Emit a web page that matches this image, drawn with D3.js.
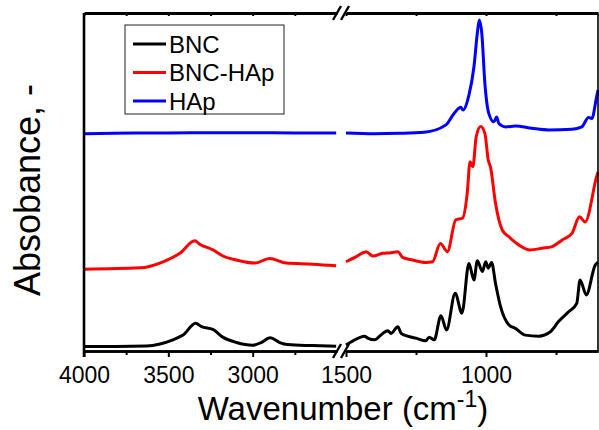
<!DOCTYPE html>
<html>
  <head>
    <meta charset="utf-8" />
    <title>FTIR spectra</title>
    <script src="https://d3js.org/d3.v7.min.js"></script>
    <style>
      body { margin: 0; background: #fff; }
      text { font-family: Arial, "Liberation Sans", sans-serif; fill: #000; }
    </style>
  </head>
  <body>
    <svg id="chart"></svg>
    <script>
      // wavenumber (cm-1), absorbance (arbitrary, offset)
      var bncLeft = [[4000,0.013],[3985,0.013],[3630,0.015],[3473,0.033],[3413,0.047],[3338,0.082],[3303,0.072],[3236,0.064],[3177,0.041],[3096,0.025],[3000,0.017],[2950,0.025],[2896,0.039],[2840,0.025],[2793,0.019],[2645,0.016],[2505,0.014]];
      var bncRight = [[1500,0.018],[1475,0.030],[1434,0.044],[1422,0.038],[1398,0.033],[1369,0.052],[1351,0.060],[1339,0.052],[1315,0.072],[1303,0.052],[1280,0.044],[1250,0.038],[1215,0.030],[1203,0.041],[1185,0.033],[1161,0.104],[1141,0.062],[1110,0.171],[1086,0.112],[1061,0.259],[1043,0.210],[1031,0.267],[1013,0.235],[1001,0.264],[992,0.245],[980,0.262],[966,0.200],[948,0.131],[918,0.077],[895,0.067],[859,0.047],[812,0.044],[770,0.057],[741,0.087],[705,0.116],[676,0.141],[664,0.210],[642,0.166],[610,0.254],[600,0.263]];

      var hybLeft = [[4000,0.242],[3669,0.246],[3531,0.264],[3432,0.289],[3343,0.326],[3314,0.316],[3235,0.299],[3176,0.281],[3096,0.269],[2988,0.260],[2899,0.274],[2800,0.260],[2643,0.257],[2505,0.252]];
      var hybRight = [[1500,0.264],[1463,0.279],[1428,0.294],[1404,0.281],[1369,0.289],[1339,0.291],[1315,0.294],[1298,0.277],[1262,0.269],[1215,0.262],[1191,0.264],[1163,0.318],[1138,0.294],[1108,0.388],[1084,0.393],[1067,0.467],[1057,0.560],[1047,0.545],[1035,0.634],[1019,0.664],[1004,0.644],[992,0.565],[984,0.545],[966,0.437],[942,0.358],[918,0.338],[883,0.314],[842,0.299],[800,0.304],[764,0.309],[729,0.328],[693,0.348],[666,0.397],[646,0.382],[605,0.516],[600,0.530]];

      var hapLeft = [[4000,0.643],[3700,0.645],[3500,0.645],[3200,0.646],[3000,0.646],[2750,0.645],[2505,0.645]];
      var hapRight = [[1500,0.645],[1400,0.643],[1310,0.644],[1221,0.647],[1143,0.669],[1114,0.703],[1090,0.721],[1082,0.713],[1061,0.757],[1043,0.841],[1031,0.940],[1024,0.979],[1015,0.940],[1004,0.792],[990,0.703],[972,0.678],[962,0.692],[954,0.673],[930,0.663],[895,0.666],[836,0.659],[776,0.654],[693,0.656],[658,0.663],[634,0.691],[622,0.688],[605,0.752],[600,0.772]];

      var seriesNames = ["BNC", "BNC-HAp", "HAp"];
      var seriesColors = ["#000000", "#ff0000", "#0000ff"];
      var seriesData = [[bncLeft, bncRight], [hybLeft, hybRight], [hapLeft, hapRight]];

      var leftTicks = [4000, 3500, 3000];
      var leftMinor = [3750, 3250, 2750];
      var rightTicks = [1500, 1000];
      var rightMinor = [1250, 750];

      var width = 599, height = 430;
      var svg = d3.select("#chart").attr("width", width).attr("height", height);

      var yTop = 13, yBottom = 351;
      var xL = d3.scaleLinear().domain([4000, 2500]).range([84, 337]);
      var xR = d3.scaleLinear().domain([1500, 600]).range([346, 598]);
      var y = d3.scaleLinear().domain([0, 1]).range([yBottom, yTop]);

      // curves
      seriesData.forEach(function(segs, i) {
        [xL, xR].forEach(function(xs, k) {
          var line = d3.line()
            .x(function(d) { return xs(d[0]); })
            .y(function(d) { return y(d[1]); })
            .curve(d3.curveMonotoneX);
          svg.append("path")
            .datum(segs[k])
            .attr("d", line)
            .attr("fill", "none")
            .attr("stroke", seriesColors[i])
            .attr("stroke-width", 3)
            .attr("stroke-linejoin", "round");
        });
      });

      function styleAxis(g, w) {
        g.selectAll(".domain").attr("stroke", "#000").attr("stroke-width", w);
        g.selectAll(".tick line").attr("stroke", "#000").attr("stroke-width", 2);
        g.selectAll("text").style("font-size", "23px").attr("fill", "#000");
      }

      // bottom + top axes, one pair per segment
      [[xL, leftTicks, leftMinor], [xR, rightTicks, rightMinor]].forEach(function(a) {
        var gMin = svg.append("g").attr("transform", "translate(0," + yBottom + ")")
          .call(d3.axisBottom(a[0]).tickValues(a[2]).tickSize(4).tickSizeOuter(0).tickFormat(""));
        styleAxis(gMin, 2.6);
        var gMaj = svg.append("g").attr("transform", "translate(0," + yBottom + ")")
          .call(d3.axisBottom(a[0]).tickValues(a[1]).tickSize(6).tickSizeOuter(0).tickPadding(10).tickFormat(d3.format("d")));
        styleAxis(gMaj, 2.6);
        var gTop = svg.append("g").attr("transform", "translate(0," + yTop + ")")
          .call(d3.axisTop(a[0]).tickValues(a[1].concat(a[2])).tickSize(-3).tickSizeOuter(0).tickFormat(""));
        styleAxis(gTop, 2.8);
      });

      var gLeft = svg.append("g").attr("transform", "translate(84,0)")
        .call(d3.axisLeft(y).tickValues([]).tickSizeOuter(0));
      styleAxis(gLeft, 2.6);
      gLeft.select(".domain").attr("d", "M0," + yTop + "V" + (yBottom + 6));

      var gRight = svg.append("g").attr("transform", "translate(597.5,0)")
        .call(d3.axisRight(y).tickValues([]).tickSizeOuter(0));
      styleAxis(gRight, 1.6);

      // axis break marks
      [yTop, yBottom].forEach(function(yy) {
        [337, 345].forEach(function(xx) {
          svg.append("line")
            .attr("x1", xx - 4).attr("y1", yy + 7)
            .attr("x2", xx + 4).attr("y2", yy - 7)
            .attr("stroke", "#000").attr("stroke-width", 2.4);
        });
      });

      // axis titles
      svg.append("text")
        .attr("transform", "translate(40,190) rotate(-90)")
        .attr("text-anchor", "middle")
        .style("font-size", "36px")
        .text("Absobance, -");

      var xt = svg.append("text")
        .attr("x", 343).attr("y", 420)
        .attr("text-anchor", "middle")
        .style("font-size", "33px");
      xt.append("tspan").text("Wavenumber (cm");
      xt.append("tspan").attr("dy", -13).style("font-size", "23px").text("-1");
      xt.append("tspan").attr("dy", 13).text(")");

      // legend
      var legend = svg.append("g");
      legend.append("rect")
        .attr("x", 125).attr("y", 25).attr("width", 159).attr("height", 89)
        .attr("fill", "#fff").attr("stroke", "#222").attr("stroke-width", 1);
      var ly = d3.scalePoint().domain(seriesNames).range([44, 101]);
      seriesNames.forEach(function(n, i) {
        legend.append("line")
          .attr("x1", 133).attr("x2", 166)
          .attr("y1", ly(n)).attr("y2", ly(n))
          .attr("stroke", seriesColors[i]).attr("stroke-width", 3);
        legend.append("text")
          .attr("x", 169).attr("y", ly(n) + 8.5)
          .style("font-size", "24px")
          .text(n);
      });
    </script>
  </body>
</html>
